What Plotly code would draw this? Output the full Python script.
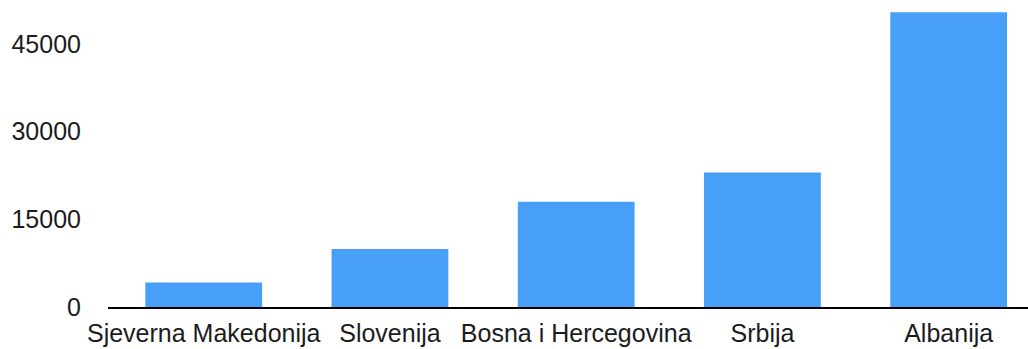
import plotly.graph_objects as go

countries = ["Sjeverna Makedonija", "Slovenija", "Bosna i Hercegovina", "Srbija", "Albanija"]
values = [4200, 9900, 18000, 23000, 50400]
y_ticks = [0, 15000, 30000, 45000]

fig = go.Figure(
    go.Bar(
        x=countries,
        y=values,
        marker=dict(color="#489ff8", line=dict(width=0)),
    )
)

fig.update_layout(
    width=1028,
    height=349,
    margin=dict(l=108, r=0, t=0, b=42),
    paper_bgcolor="white",
    plot_bgcolor="white",
    bargap=0.373,
    showlegend=False,
    font=dict(family="Liberation Sans, Arial, Helvetica, sans-serif", size=25, color="#1c1c1c"),
)

fig.update_xaxes(
    range=[-0.514, 4.426],
    showline=True,
    linecolor="black",
    linewidth=2,
    showgrid=False,
    ticks="",
    ticklabelstandoff=3,
    tickfont=dict(size=25),
)

fig.update_yaxes(
    range=[0, 52500],
    tickvals=y_ticks,
    ticktext=[str(v) for v in y_ticks],
    showgrid=False,
    zeroline=False,
    showline=False,
    ticks="",
    ticklabelstandoff=26,
    tickfont=dict(size=25),
)

fig.write_html("out.html")
